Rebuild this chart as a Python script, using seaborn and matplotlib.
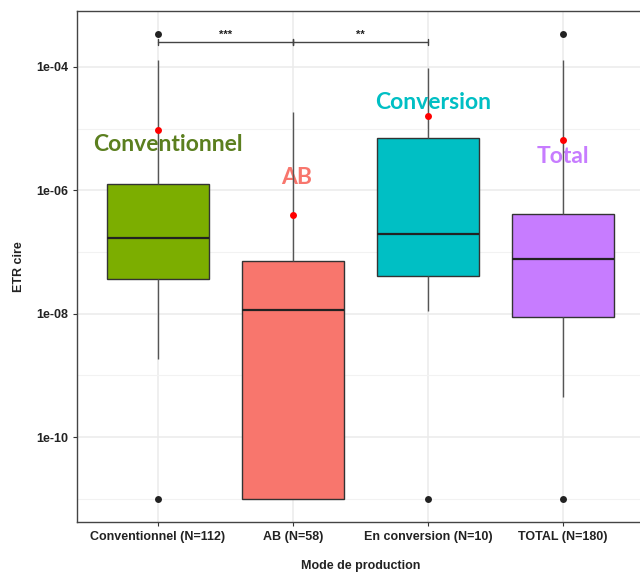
import numpy as np
import pandas as pd
import matplotlib
matplotlib.use("Agg")
import matplotlib.pyplot as plt
import seaborn as sns

# ---- data (log10 of ETR cire) ----
categories = ["Conventionnel (N=112)", "AB (N=58)", "En conversion (N=10)", "TOTAL (N=180)"]
box_colors = ["#7CAE00", "#F8766D", "#00BFC4", "#C77CFF"]
# five-number summaries: lower whisker, Q1, median, Q3, upper whisker (log10)
conv_summary = [-8.74, -7.44, -6.77, -5.90, -3.89]
ab_summary = [-11.0, -11.0, -7.94, -7.15, -4.73]
enconv_summary = [-7.95, -7.39, -6.71, -5.15, -4.02]
total_summary = [-9.35, -8.06, -7.11, -6.39, -3.89]
# outliers (log10)
outlier_cat = ["Conventionnel (N=112)", "Conventionnel (N=112)", "En conversion (N=10)",
               "TOTAL (N=180)", "TOTAL (N=180)"]
outlier_val = [-3.47, -11.0, -11.0, -3.47, -11.0]
# means (log10)
mean_val = [-5.03, -6.40, -4.79, -5.18]
# labels
label_text = ["Conventionnel", "AB", "Conversion", "Total"]
label_colors = ["#5B7F1F", "#F8766D", "#00BFC4", "#C77CFF"]
label_x = [0.07, 1.03, 2.04, 3.0]
label_y = [-5.265, -5.80, -4.58, -5.46]
# significance
sig_pairs = [(0, 1), (1, 2)]
sig_text = ["***", "**"]
sig_y = -3.595

summaries = [conv_summary, ab_summary, enconv_summary, total_summary]
rows = []
for cat, s in zip(categories, summaries):
    for v in s:
        rows.append({"mode": cat, "etr": 10 ** v})
df = pd.DataFrame(rows)
df_out = pd.DataFrame({"mode": outlier_cat, "etr": [10 ** v for v in outlier_val]})
df_mean = pd.DataFrame({"mode": categories, "etr": [10 ** v for v in mean_val]})

sns.set_theme(style="whitegrid")
plt.rcParams["font.family"] = ["Liberation Sans", "DejaVu Sans"]

fig = plt.figure(figsize=(6.4, 5.74), dpi=100)
ax = fig.add_axes([77 / 640, 1 - 522 / 574, (644 - 77) / 640, (522 - 11) / 574])

sns.boxplot(data=df, x="mode", y="etr", hue="mode", palette=box_colors, order=categories,
            hue_order=categories, whis=(0, 100), width=0.75, log_scale=True, legend=False,
            saturation=1, linecolor="#333333", linewidth=1.0, showfliers=False, ax=ax,
            medianprops={"linewidth": 1.6, "color": "#222222"},
            whiskerprops={"color": "#555555"}, capprops={"linewidth": 0})

sns.stripplot(data=df_out, x="mode", y="etr", order=categories, color="#222222",
              size=5, jitter=False, ax=ax, zorder=5)
sns.stripplot(data=df_mean, x="mode", y="etr", order=categories, color="#FF0000",
              size=5, jitter=False, ax=ax, zorder=6)

for t, c, x, y in zip(label_text, label_colors, label_x, label_y):
    ax.text(x, 10 ** y, t, color=c, fontsize=16.5, fontweight="bold", family="Lato",
            ha="center", va="center", zorder=1)

for (a, b), st in zip(sig_pairs, sig_text):
    ax.plot([a, b], [10 ** sig_y, 10 ** sig_y], color="#444444", linewidth=1.0, zorder=4,
            scalex=False, scaley=False)
    for xx in (a, b):
        ax.plot([xx, xx], [10 ** (sig_y - 0.05), 10 ** (sig_y + 0.05)], color="#444444",
                linewidth=1.0, zorder=4, scalex=False, scaley=False)
    ax.text((a + b) / 2, 10 ** (sig_y + 0.03), st, ha="center", va="bottom", fontsize=8,
            fontweight="bold", color="#222222")

ax.set_yscale("log")
ax.set_autoscale_on(False)
ax.set_xlim(-0.6, 3.6)
ax.set_ylim(10 ** -11.376, 10 ** -3.094)

major = [1e-4, 1e-6, 1e-8, 1e-10]
minor = [1e-3, 1e-5, 1e-7, 1e-9, 1e-11]
ax.set_yticks(major)
ax.set_yticklabels(["1e-04", "1e-06", "1e-08", "1e-10"])
ax.set_yticks(minor, minor=True)
ax.yaxis.set_minor_formatter(matplotlib.ticker.NullFormatter())
ax.tick_params(axis="y", which="minor", length=0)
ax.grid(True, which="major", color="#EBEBEB", linewidth=1.1)
ax.grid(True, which="minor", axis="y", color="#F2F2F2", linewidth=0.8)
ax.set_axisbelow(True)

ax.tick_params(axis="both", which="major", length=3, width=0.8, color="#333333",
               labelsize=9, labelcolor="#222222", bottom=True, left=True)
for lab in ax.get_xticklabels() + ax.get_yticklabels():
    lab.set_fontweight("bold")

for sp in ax.spines.values():
    sp.set_visible(True)
    sp.set_color("#444444")
    sp.set_linewidth(1.0)

ax.set_xlabel("Mode de production", fontsize=9, fontweight="bold", labelpad=12, color="#222222")
ax.set_ylabel("ETR cire", fontsize=9, fontweight="bold", labelpad=8, color="#222222")

ax.set_ylim(10 ** -11.376, 10 ** -3.094)
fig.savefig("out.png", dpi=100)
